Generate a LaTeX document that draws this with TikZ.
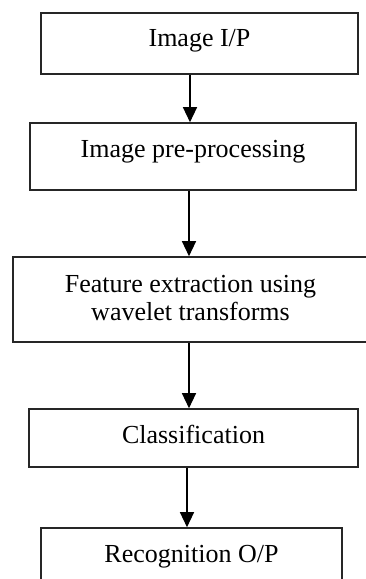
\documentclass[tikz,border=0pt]{standalone}
\usepackage{fontspec}
\setmainfont{Liberation Serif}
\usetikzlibrary{arrows.meta}
\begin{document}
\begin{tikzpicture}[x=1pt,y=-1pt,
  box/.style={draw=black!85,line width=1.6pt,rectangle,inner sep=0pt,align=center,
    font=\fontsize{26}{28}\selectfont},
  arr/.style={line width=1.3pt,-{Triangle[length=15pt,width=14pt]}}]
\useasboundingbox (0,0) rectangle (366,579);
\node[box,minimum width=317pt,minimum height=61pt,text height=18.5pt,text depth=13.5pt] (b1) at (199.5,43.5) {Image I/P};
\node[box,minimum width=326pt,minimum height=67pt,text height=16.5pt,text depth=15.5pt] (b2) at (193,156.5) {Image pre-processing};
\node[box,minimum width=355pt,minimum height=85pt,text height=51pt,text depth=10pt] (b3) at (190.5,299.5) {Feature extraction using\\wavelet transforms};
\node[box,minimum width=329pt,minimum height=58pt,text height=21pt,text depth=11pt] (b4) at (193.5,438) {Classification};
\node[box,minimum width=301pt,minimum height=70pt,text height=15pt,text depth=17pt] (b5) at (191.5,563) {Recognition O/P};
\coordinate (x1) at (190,0);
\coordinate (x2) at (189,0);
\coordinate (x3) at (189,0);
\coordinate (x4) at (187,0);
\draw[arr] (b1.south -| x1) -- (b2.north -| x1);
\draw[arr] (b2.south -| x2) -- (b3.north -| x2);
\draw[arr] (b3.south -| x3) -- (b4.north -| x3);
\draw[arr] (b4.south -| x4) -- (b5.north -| x4);
\end{tikzpicture}
\end{document}
